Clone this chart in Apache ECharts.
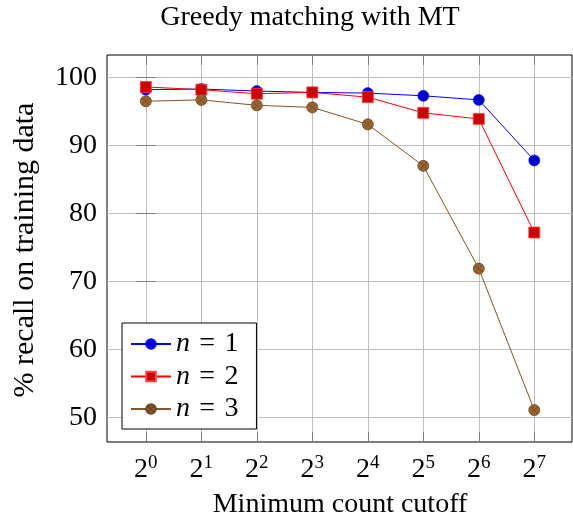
<!DOCTYPE html>
<html>
<head>
<meta charset="utf-8">
<script src="https://cdn.jsdelivr.net/npm/echarts@6/dist/echarts.min.js"></script>
<style>
html, body { margin: 0; padding: 0; background: #fff; }
#main { width: 573px; height: 522px; }
</style>
</head>
<body>
<div id="main"></div>
<script>
// data
var exponents = [0, 1, 2, 3, 4, 5, 6, 7];   // x = 2^e
var yTicks = [50, 60, 70, 80, 90, 100];
var seriesNames = ['n = 1', 'n = 2', 'n = 3'];
var recallN1 = [98.2, 98.3, 98.0, 97.8, 97.7, 97.3, 96.7, 87.8];
var recallN2 = [98.6, 98.2, 97.6, 97.8, 97.1, 94.8, 93.9, 77.2];
var recallN3 = [96.5, 96.7, 95.9, 95.6, 93.1, 87.0, 71.9, 51.1];

var FONT = 'Liberation Serif';
// circle with a cross inside (pgfplots "otimes")
var OTIMES = 'path://M10,0 A10,10 0 1,1 -10,0 A10,10 0 1,1 10,0 Z M-7.07,-7.07 L7.07,7.07 M-7.07,7.07 L7.07,-7.07';

function pairs(vals) {
    return exponents.map(function (e, i) { return [e, vals[i]]; });
}

var chart = echarts.init(document.getElementById('main'), null, { renderer: 'canvas' });

var tickStyle = { show: true, inside: true, length: 10, lineStyle: { color: '#7f7f7f', width: 1 } };
var gridLine = { show: true, lineStyle: { color: '#bfbfbf', width: 1, type: 'solid' } };

var option = {
    animation: false,
    backgroundColor: '#fff',
    textStyle: { fontFamily: FONT },
    grid: {
        left: 107, top: 55, right: 1, bottom: 80,
        show: true, borderColor: '#000', borderWidth: 1, backgroundColor: 'transparent'
    },
    graphic: [
        {
            type: 'text', x: 310, y: 18,
            style: { text: 'Greedy matching with MT', font: '28px "Liberation Serif"', fill: '#000',
                     textAlign: 'center', textVerticalAlign: 'middle' }
        },
        {
            type: 'text', x: 340, y: 505,
            style: { text: 'Minimum count cutoff', font: '28px "Liberation Serif"', fill: '#000',
                     textAlign: 'center', textVerticalAlign: 'middle' }
        },
        {
            type: 'text', x: 25, y: 250, rotation: Math.PI / 2,
            style: { text: '% recall on training data', font: '30px "Liberation Serif"', fill: '#000',
                     textAlign: 'center', textVerticalAlign: 'middle' }
        }
    ],
    legend: {
        orient: 'vertical',
        left: 122, top: 323,
        backgroundColor: '#fff',
        borderColor: '#000', borderWidth: 1, borderRadius: 0,
        padding: [7, 18, 6, 8],
        itemWidth: 40, itemHeight: 12, itemGap: 4.5,
        data: seriesNames,
        textStyle: {
            fontSize: 28, lineHeight: 28, color: '#000',
            rich: { i: { fontStyle: 'italic', fontSize: 28, fontFamily: FONT } }
        },
        formatter: function (name) {
            return '{i|n} \u200A=\u200A ' + name.split('= ')[1];
        }
    },
    xAxis: [
        {
            type: 'value', min: -0.7, max: 7.68,
            axisLine: { show: false },
            axisTick: Object.assign({ customValues: exponents }, tickStyle),
            splitLine: gridLine,
            axisLabel: {
                customValues: exponents,
                margin: 12,
                color: '#000',
                formatter: function (v) { return '{b|2}{s|' + v + '}'; },
                rich: {
                    b: { fontSize: 28, fontFamily: FONT, verticalAlign: 'bottom', lineHeight: 30 },
                    s: { fontSize: 19, fontFamily: FONT, verticalAlign: 'top', lineHeight: 19 }
                }
            }
        },
        {
            type: 'value', position: 'top', min: -0.7, max: 7.68,
            axisLine: { show: false },
            axisTick: Object.assign({ customValues: exponents }, tickStyle),
            axisLabel: { show: false },
            splitLine: { show: false }
        }
    ],
    yAxis: [
        {
            type: 'value', min: 46.4, max: 103.3,
            axisLine: { show: false },
            axisTick: Object.assign({ customValues: yTicks }, tickStyle),
            splitLine: gridLine,
            axisLabel: { customValues: yTicks, fontSize: 28, color: '#000', margin: 10 }
        },
        {
            type: 'value', position: 'right', min: 46.4, max: 103.3,
            axisLine: { show: false },
            axisTick: Object.assign({ customValues: yTicks }, tickStyle),
            axisLabel: { show: false },
            splitLine: { show: false }
        }
    ],
    series: [
        {
            name: seriesNames[0], type: 'line', data: pairs(recallN1),
            symbol: 'circle', symbolSize: 11,
            lineStyle: { color: '#0000ff', width: 1 },
            itemStyle: { color: '#0000cc', borderColor: '#0000ff', borderWidth: 0.6 }
        },
        {
            name: seriesNames[1], type: 'line', data: pairs(recallN2),
            symbol: 'rect', symbolSize: 11,
            lineStyle: { color: '#ff0000', width: 1 },
            itemStyle: { color: '#cc0000', borderColor: '#ff4040', borderWidth: 0.8 }
        },
        {
            name: seriesNames[2], type: 'line', data: pairs(recallN3),
            symbol: OTIMES, symbolSize: 11,
            lineStyle: { color: '#80552b', width: 1 },
            itemStyle: { color: '#99642f', borderColor: '#6b4520', borderWidth: 0.8 }
        }
    ]
};

chart.setOption(option);
</script>
</body>
</html>
